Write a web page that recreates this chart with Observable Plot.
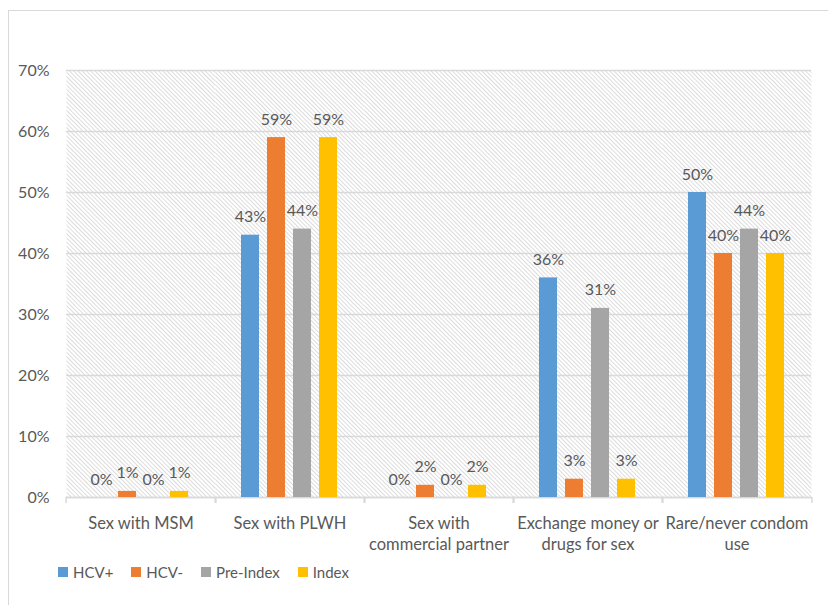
<!DOCTYPE html>
<html><head><meta charset="utf-8">
<script src="https://cdn.jsdelivr.net/npm/d3@7"></script>
<script src="https://cdn.jsdelivr.net/npm/@observablehq/plot@0.6"></script>
<style>
html,body{margin:0;padding:0;background:#fff;overflow:hidden;width:828px;height:605px}
#box{position:absolute;left:8px;top:10px;width:840px;height:620px;border:1px solid #d9d9d9;box-sizing:border-box}
#chart{position:absolute;left:0;top:0}
#legend{position:absolute;left:58px;top:563px;display:flex;gap:18px;font-family:Lato,sans-serif;font-size:15px;color:#595959;align-items:center}
#legend .item{display:flex;align-items:center}
#legend .sw{width:10px;height:10px;margin-right:5px;display:inline-block}
</style></head>
<body>
<div id="box"></div>
<svg width="0" height="0" style="position:absolute">
  <defs>
    <pattern id="hatch" patternUnits="userSpaceOnUse" width="3" height="3" patternTransform="rotate(-45)">
      <rect width="3" height="3" fill="#ffffff"/>
      <line x1="0.5" y1="0" x2="0.5" y2="3" stroke="#dcdcdc" stroke-width="1"/>
    </pattern>
  </defs>
</svg>
<div id="chart"></div>
<div id="legend"></div>
<script>
const categories = ["Sex with MSM", "Sex with PLWH", "Sex with commercial partner", "Exchange money or drugs for sex", "Rare/never condom use"];
const categoryLabels = ["Sex with MSM", "Sex with PLWH", "Sex with\ncommercial partner", "Exchange money or\ndrugs for sex", "Rare/never condom\nuse"];
const series = ["HCV+", "HCV-", "Pre-Index", "Index"];
const hcvPositive = [0, 43, 0, 36, 50];
const hcvNegative = [1, 59, 2, 3, 40];
const preIndex = [0, 44, 0, 31, 44];
const indexValues = [1, 59, 2, 3, 40];
const colors = ["#5B9BD5", "#ED7D31", "#A5A5A5", "#FFC000"];
const yTicks = [0, 10, 20, 30, 40, 50, 60, 70];

const seriesValues = [hcvPositive, hcvNegative, preIndex, indexValues];
const rows = [];
categories.forEach((c, i) => {
  series.forEach((s, j) => {
    rows.push({category: c, series: s, value: seriesValues[j][i] / 100});
  });
});

const W = 828, H = 560, mL = 64, mR = 15, mT = 70, mB = 63;
const bw = (W - mL - mR) / categories.length;
const textColor = "#595959";
const gridColor = "#d9d9d9";

const chart = Plot.plot({
  width: W, height: H,
  marginTop: mT, marginBottom: mB, marginLeft: mL, marginRight: mR,
  style: {fontFamily: "Lato, sans-serif", fontSize: "16px", color: textColor, background: "transparent", overflow: "visible"},
  fx: {domain: categories, padding: 0, label: null},
  x: {domain: series, paddingInner: 0.29, paddingOuter: 0.94, axis: null},
  y: {domain: [0, 0.7], label: null},
  color: {domain: series, range: colors},
  marks: [
    Plot.frame({fill: "url(#hatch)", stroke: null}),
    Plot.gridY(yTicks.map(t => t / 100), {stroke: gridColor, strokeOpacity: 1, strokeWidth: 1.5}),
    Plot.axisY(yTicks.map(t => t / 100), {tickSize: 0, tickPadding: 17, tickFormat: d => Math.round(d * 100) + "%", fill: textColor, fontSize: 16, label: null}),
    Plot.ruleY([0], {stroke: gridColor, strokeWidth: 1.5}),
    Plot.axisFx({anchor: "bottom", tickSize: 6, tickFormat: () => "", dx: -bw / 2, stroke: gridColor, strokeOpacity: 1, strokeWidth: 1.5, label: null}),
    Plot.axisFx({anchor: "bottom", tickSize: 6, tickFormat: () => "", dx: bw / 2, stroke: gridColor, strokeOpacity: 1, strokeWidth: 1.5, label: null}),
    Plot.axisFx({anchor: "bottom", tickSize: 0, tickPadding: 16, tickFormat: d => categoryLabels[categories.indexOf(d)], lineHeight: 1.3, fill: textColor, fontSize: 16.5, label: null}),
    Plot.barY(rows, {fx: "category", x: "series", y: "value", fill: "series"}),
    Plot.text(rows, {fx: "category", x: "series", y: "value", text: d => Math.round(d.value * 100) + "%", lineAnchor: "bottom", dy: -13, fill: textColor, fontSize: 16})
  ]
});
document.getElementById("chart").append(chart);

const legend = document.getElementById("legend");
series.forEach((s, i) => {
  const item = document.createElement("div");
  item.className = "item";
  const sw = document.createElement("span");
  sw.className = "sw";
  sw.style.background = colors[i];
  const t = document.createElement("span");
  t.textContent = s;
  item.append(sw, t);
  legend.append(item);
});
</script>
</body></html>
